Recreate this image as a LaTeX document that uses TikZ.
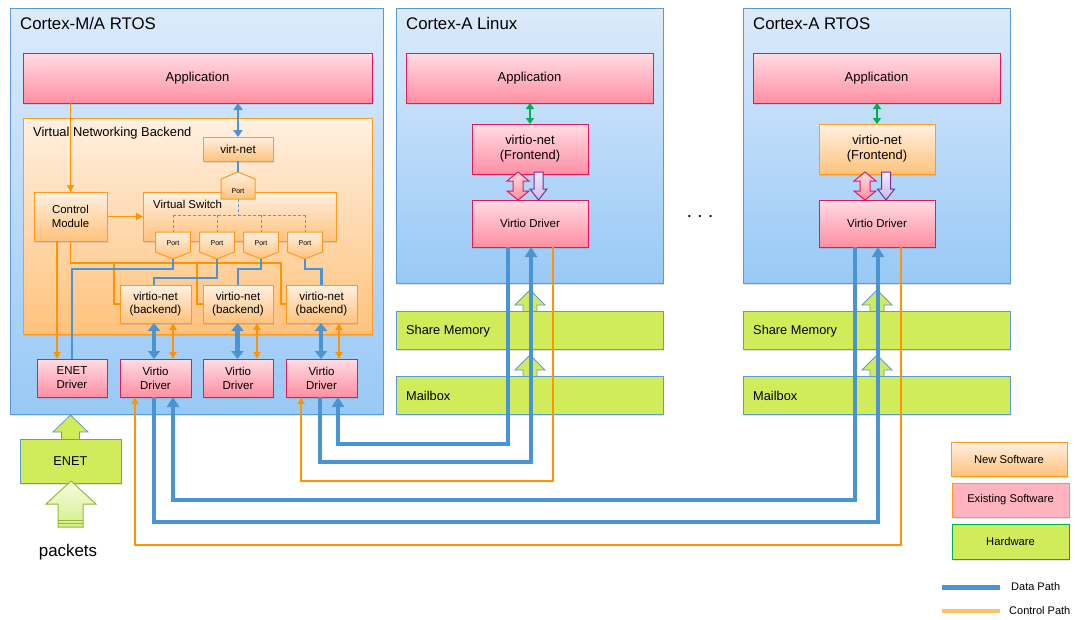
\documentclass[tikz,border=0pt]{standalone}
\usepackage{fontspec}
\setmainfont{Liberation Sans}
\usetikzlibrary{arrows.meta,shadows,calc}

\definecolor{bxborder}{HTML}{5B9BD5}
\definecolor{bxtop}{HTML}{DCEAFB}
\definecolor{bxbot}{HTML}{98C9F6}
\definecolor{pktop}{HTML}{FFDCE3}
\definecolor{pkbot}{HTML}{FF8FA3}
\definecolor{pkborder}{HTML}{E2185A}
\definecolor{ortop}{HTML}{FFF0E1}
\definecolor{orbot}{HTML}{FFC27C}
\definecolor{orborder}{HTML}{FF9A1F}
\definecolor{hwgreen}{HTML}{D1EC5B}
\definecolor{dblue}{HTML}{4A94D3}
\definecolor{corange}{HTML}{FF9400}
\definecolor{arrgreen}{HTML}{00B050}
\definecolor{lavtop}{HTML}{F2ECFA}
\definecolor{lavbot}{HTML}{C9B8E8}
\definecolor{lavborder}{HTML}{7030A0}
\definecolor{exsoft}{HTML}{FFB3BE}
\definecolor{pkttop}{HTML}{F6FDE2}
\definecolor{pktbot}{HTML}{D4EE8A}
\definecolor{pktborder}{HTML}{9AB92E}
\definecolor{ctrllegend}{HTML}{FFC266}

\newcommand\myfs[2]{\fontsize{#1}{#2}\selectfont}

\newcommand\myportdown[3]{%
  \path[portshape] (#2-17.5,#3) -- (#2+17.5,#3) -- (#2+17.5,#3+20) -- (#2,#3+27) -- (#2-17.5,#3+20) -- cycle;
  \node[porttext] (#1) at (#2,#3+11) {Port};
  \coordinate (#1tip) at (#2,#3+27);
  \coordinate (#1top) at (#2,#3);
}
\newcommand\myportup[3]{%
  \path[portshape] (#2,#3) -- (#2+17,#3+7) -- (#2+17,#3+27) -- (#2-17,#3+27) -- (#2-17,#3+7) -- cycle;
  \node[porttext] (#1) at (#2,#3+19) {Port};
  \coordinate (#1tip) at (#2,#3);
  \coordinate (#1bot) at (#2,#3+27);
}
% hollow green up arrow: cx, tip y, bottom y, head half, shaft half, head length
\newcommand\hwup[6]{%
  \path[hwarrow] (#1,#2) -- (#1+#4,#2+#6) -- (#1+#5,#2+#6) -- (#1+#5,#3) -- (#1-#5,#3) -- (#1-#5,#2+#6) -- (#1-#4,#2+#6) -- cycle;
}
\newcommand\pinkdbl[1]{%
  \path[pinkarrow] (#1,172) -- (#1+11,181) -- (#1+5,181) -- (#1+5,191) -- (#1+11,191) -- (#1,200) -- (#1-11,191) -- (#1-5,191) -- (#1-5,181) -- (#1-11,181) -- cycle;
}
\newcommand\lavdown[1]{%
  \path[lavarrow] (#1-4.5,172) -- (#1+4.5,172) -- (#1+4.5,189) -- (#1+8.5,189) -- (#1,200) -- (#1-8.5,189) -- (#1-4.5,189) -- cycle;
}

\tikzset{
  base/.style={anchor=north west, inner sep=0pt, outer sep=0pt, align=center, text=black},
  shad/.style={drop shadow={shadow xshift=1pt, shadow yshift=-1.5pt, opacity=0.22}},
  cortexbox/.style={base, shad, draw=bxborder, line width=0.8pt, top color=bxtop, bottom color=bxbot},
  pinkbox/.style={base, shad, draw=pkborder, line width=1pt, top color=pktop, bottom color=pkbot},
  orbox/.style={base, shad, draw=orborder, line width=1pt, top color=ortop, bottom color=orbot},
  hwbox/.style={base, shad, draw=bxborder, line width=0.8pt, fill=hwgreen},
  titletext/.style={anchor=base west, inner sep=0pt, font=\myfs{16.8}{18}},
  labeltext/.style={anchor=base west, inner sep=0pt},
  portshape/.style={draw=orborder, line width=1pt, top color=ortop, bottom color=orbot},
  porttext/.style={inner sep=0pt, font=\myfs{7}{8}},
  hwarrow/.style={draw=bxborder, line width=0.8pt, fill=hwgreen},
  pinkarrow/.style={draw=pkborder, line width=1pt, top color=pktop, bottom color=pkbot},
  lavarrow/.style={draw=lavborder, line width=1pt, top color=lavtop, bottom color=lavbot},
  dashline/.style={draw=bxborder, line width=0.8pt, dash pattern=on 3pt off 2pt},
  dpath/.style={draw=dblue, line width=4.5pt, -{Triangle[width=12pt,length=10pt]}},
  dline/.style={draw=dblue, line width=2.2pt},
  dbl/.style={draw=dblue, line width=4.5pt, {Triangle[width=12pt,length=8pt]}-{Triangle[width=12pt,length=8pt]}},
  sdbl/.style={draw=dblue, line width=2.5pt, {Triangle[width=9pt,length=7pt]}-{Triangle[width=9pt,length=7pt]}},
  cpath/.style={draw=corange, line width=1.9pt},
  carrow/.style={draw=corange, line width=1.9pt, -{Triangle[width=7pt,length=7pt]}},
  cdbl/.style={draw=corange, line width=1.9pt, {Triangle[width=7pt,length=7pt]}-{Triangle[width=7pt,length=7pt]}},
  gdbl/.style={draw=arrgreen, line width=2pt, {Triangle[width=8pt,length=6pt]}-{Triangle[width=8pt,length=6pt]}},
}

\begin{document}
\begin{tikzpicture}[x=1pt, y=-1pt]
\useasboundingbox (0,0) rectangle (1075,619);

% ================= Cortex-M/A RTOS =================
\node[cortexbox, minimum width=373, minimum height=406] (cmbox) at (10,8) {};
\node[titletext] (cmtitle) at (20,29) {Cortex-M/A RTOS};
\node[pinkbox, minimum width=349, minimum height=50, font=\myfs{13}{14}] (app1) at (23,53) {Application};
\node[orbox, minimum width=349, minimum height=216] (vnb) at (23,118) {};
\node[labeltext, font=\myfs{12.9}{14}] (vnbt) at (33,136) {Virtual Networking Backend};
\node[orbox, minimum width=70, minimum height=24, font=\myfs{11.6}{13}] (virt) at (203,137) {virt-net};
\node[orbox, minimum width=193, minimum height=49] (vsw) at (143,192) {};
\node[labeltext, font=\myfs{11.4}{13}] (vswt) at (153,208) {Virtual Switch};
\node[orbox, minimum width=73, minimum height=49, font=\myfs{11.4}{14}] (cm) at (34,192) {Control\\Module};

% dashed switch fabric
\coordinate (dsh) at (0,215);
\coordinate (p0bot) at (238,199);
\coordinate (p1top) at (173,232);
\coordinate (p4top) at (305,232);
\draw[dashline] (p0bot) -- (p0bot |- dsh);
\draw[dashline] (p1top |- dsh) -- (p4top |- dsh);
\draw[dashline] (173,215) -- (173,232);
\draw[dashline] (217,215) -- (217,232);
\draw[dashline] (261,215) -- (261,232);
\draw[dashline] (305,215) -- (305,232);

% ports
\myportup{p0}{238}{172}
\myportdown{p1}{173}{232}
\myportdown{p2}{217}{232}
\myportdown{p3}{261}{232}
\myportdown{p4}{305}{232}

% backends
\node[orbox, minimum width=71, minimum height=38, font=\myfs{11.6}{13}] (vb1) at (120,285) {virtio-net\\(backend)};
\node[orbox, minimum width=70, minimum height=38, font=\myfs{11.6}{13}] (vb2) at (203,285) {virtio-net\\(backend)};
\node[orbox, minimum width=71, minimum height=38, font=\myfs{11.6}{13}] (vb3) at (286,285) {virtio-net\\(backend)};

% drivers
\node[pinkbox, minimum width=70, minimum height=38, font=\myfs{11.5}{14}] (ed) at (37,359) {ENET\\Driver};
\node[pinkbox, minimum width=71, minimum height=38, font=\myfs{11.5}{14}] (vd1) at (120,359) {Virtio\\Driver};
\node[pinkbox, minimum width=70, minimum height=38, font=\myfs{11.5}{14}] (vd2) at (203,359) {Virtio\\Driver};
\node[pinkbox, minimum width=71, minimum height=38, font=\myfs{11.5}{14}] (vd3) at (286,359) {Virtio\\Driver};

% control paths inside
\coordinate (cbus) at (0,263);
\draw[carrow] (cm.north |- app1.south) -- (cm.north);
\draw[carrow] (cm.east) -- (vsw.west |- cm.east);
\draw[cpath] (cm.south) |- ([xshift=-5pt]vb3.west |- cbus) |- (vb3.west);
\draw[cpath] ([xshift=-6pt]vb1.west |- cbus) |- (vb1.west);
\draw[cpath] ([xshift=-6pt]vb2.west |- cbus) |- (vb2.west);
\draw[carrow] ([xshift=-13.5pt]cm.south) -- ([xshift=-13.5pt]cm.south |- ed.north);

% data paths inside
\draw[sdbl] (virt.north |- app1.south) -- (virt.north);
\draw[dline] (virt.south) -- (p0tip);
\draw[dline] (p1tip) -- ++(0,10) -| (ed.north);
\draw[dline] (p2tip) -- ++(0,19) -| ([xshift=-1.5pt]vb1.north);
\draw[dline] (p3tip) -- ++(0,10) -| (vb2.north);
\draw[dline] (p4tip) -- ++(0,10) -| (vb3.north);

\draw[dbl] ([xshift=-1.5pt]vb1.south) -- ([xshift=-1.5pt]vd1.north);
\draw[dbl] ([xshift=-0.5pt]vb2.south) -- ([xshift=-0.5pt]vd2.north);
\draw[dbl] ([xshift=-0.5pt]vb3.south) -- ([xshift=-0.5pt]vd3.north);
\draw[cdbl] ([xshift=17.5pt]vb1.south) -- ([xshift=17.5pt]vd1.north);
\draw[cdbl] ([xshift=19pt]vb2.south) -- ([xshift=19pt]vd2.north);
\draw[cdbl] ([xshift=17.5pt]vb3.south) -- ([xshift=17.5pt]vd3.north);

% ENET hardware
\hwup{70.5}{415}{440}{17.5}{9}{17}
\node[hwbox, minimum width=101, minimum height=44, font=\myfs{12.8}{14}] (enet) at (20,439) {ENET};
\path[draw=pktborder, line width=1pt, top color=pkttop, bottom color=pktbot]
  (71,481) -- (96,504) -- (83,504) -- (83,527) -- (58,527) -- (58,504) -- (46,504) -- cycle;
\draw[pktborder, line width=0.8pt] (58,520.5) -- (83,520.5);
\draw[pktborder, line width=0.8pt] (58,523.8) -- (83,523.8);
\node[inner sep=0pt, font=\myfs{16.9}{18}] (pkts) at (68,552) {packets};

% ================= Cortex-A Linux =================
\node[cortexbox, minimum width=267, minimum height=275] (linbox) at (396,8) {};
\node[titletext] (lintitle) at (406,29) {Cortex-A Linux};
\node[pinkbox, minimum width=247, minimum height=50, font=\myfs{13}{14}] (linapp) at (406,53) {Application};
\node[pinkbox, minimum width=116, minimum height=50, font=\myfs{12.9}{14.7}] (linfe) at (472,124) {virtio-net\\(Frontend)};
\node[pinkbox, minimum width=116, minimum height=47, font=\myfs{11.5}{13}] (linvd) at (472,200) {Virtio Driver};
\draw[gdbl] (linfe.north |- linapp.south) -- (linfe.north);
\pinkdbl{518}
\lavdown{538.5}
\hwup{530}{290}{311.5}{15}{7}{15}
\node[hwbox, minimum width=267, minimum height=38] (linsm) at (396,311) {};
\node[labeltext, font=\myfs{12.8}{14}] (linsmt) at (406,334) {Share Memory};
\hwup{530}{355}{376.5}{15}{7}{15}
\node[hwbox, minimum width=267, minimum height=38] (linmb) at (396,376) {};
\node[labeltext, font=\myfs{12.8}{14}] (linmbt) at (406,400) {Mailbox};

% ================= Cortex-A RTOS =================
\node[cortexbox, minimum width=267, minimum height=275] (rbox) at (743,8) {};
\node[titletext] (rtitle) at (753,29) {Cortex-A RTOS};
\node[pinkbox, minimum width=247, minimum height=50, font=\myfs{13}{14}] (rapp) at (753,53) {Application};
\node[orbox, minimum width=116, minimum height=50, font=\myfs{12.9}{14.7}] (rfe) at (819,124) {virtio-net\\(Frontend)};
\node[pinkbox, minimum width=116, minimum height=47, font=\myfs{11.5}{13}] (rvd) at (819,200) {Virtio Driver};
\draw[gdbl] (rfe.north |- rapp.south) -- (rfe.north);
\pinkdbl{865}
\lavdown{886}
\hwup{877}{290}{311.5}{15}{7}{15}
\node[hwbox, minimum width=267, minimum height=38] (rsm) at (743,311) {};
\node[labeltext, font=\myfs{12.8}{14}] (rsmt) at (753,334) {Share Memory};
\hwup{877}{355}{376.5}{15}{7}{15}
\node[hwbox, minimum width=267, minimum height=38] (rmb) at (743,376) {};
\node[labeltext, font=\myfs{12.8}{14}] (rmbt) at (753,400) {Mailbox};

\node[inner sep=0pt, font=\bfseries\myfs{13}{14}] (dots) at (700,217) {.\hspace{7pt}.\hspace{7pt}.};

% ================= long connectors =================
\coordinate (yA) at (0,444);
\coordinate (yB) at (0,462);
\coordinate (yC) at (0,481);
\coordinate (yD) at (0,500);
\coordinate (yE) at (0,522);
\coordinate (yF) at (0,545);
\draw[dpath] ([xshift=-22pt]linvd.south) -- ([xshift=-22pt]linvd.south |- yA) -| ([xshift=16.5pt]vd3.south);
\draw[dpath] ([xshift=-1.5pt]vd3.south) -- ([xshift=-1.5pt]vd3.south |- yB) -| ([xshift=1pt]linvd.south);
\draw[carrow] ([xshift=23pt]linvd.south) -- ([xshift=23pt]linvd.south |- yC) -| ([xshift=-20.5pt]vd3.south);
\draw[dpath] ([xshift=-22pt]rvd.south) -- ([xshift=-22pt]rvd.south |- yD) -| ([xshift=17.5pt]vd1.south);
\draw[dpath] ([xshift=-1.5pt]vd1.south) -- ([xshift=-1.5pt]vd1.south |- yE) -| ([xshift=1pt]rvd.south);
\draw[carrow] ([xshift=24pt]rvd.south) -- ([xshift=24pt]rvd.south |- yF) -| ([xshift=-20.5pt]vd1.south);

% ================= legend =================
\node[orbox, minimum width=116, minimum height=34, font=\myfs{11.2}{12}] (lg1) at (951,442) {New Software};
\node[base, shad, fill=exsoft, draw=orborder, line width=1pt, minimum width=117, minimum height=34, font=\myfs{11.2}{12}] (lg2) at (952,483) {Existing Software};
\node[base, shad, fill=hwgreen, draw=arrgreen, line width=1pt, minimum width=117, minimum height=35, font=\myfs{11.2}{12}] (lg3) at (952,524) {Hardware};
\coordinate (ld1) at (942,587);
\coordinate (ld2) at (1000,587);
\draw[dblue, line width=5pt] (ld1) -- (ld2);
\node[anchor=west, inner sep=0pt, font=\myfs{11}{12}] (ldt) at (1011,587) {Data Path};
\coordinate (lc1) at (942,611);
\coordinate (lc2) at (1000,611);
\draw[ctrllegend, line width=3.5pt] (lc1) -- (lc2);
\node[anchor=west, inner sep=0pt, font=\myfs{11}{12}] (lct) at (1009,611) {Control Path};
\end{tikzpicture}
\end{document}
